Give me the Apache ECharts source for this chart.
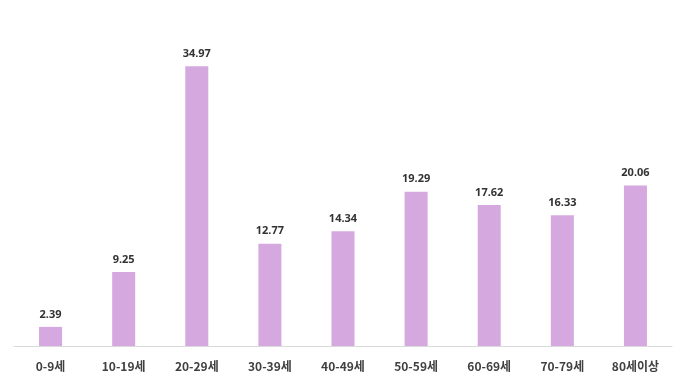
<!DOCTYPE html>
<html>
<head>
<meta charset="utf-8">
<script src="https://cdn.jsdelivr.net/npm/echarts@6/dist/echarts.min.js"></script>
<style>
  html, body { margin: 0; padding: 0; background: #ffffff; }
  #chart { width: 680px; height: 377px; }
</style>
</head>
<body>
<div id="chart"></div>
<script>
// Age groups and their values
const categories = ['0-9세', '10-19세', '20-29세', '30-39세', '40-49세', '50-59세', '60-69세', '70-79세', '80세이상'];
const values = [2.39, 9.25, 34.97, 12.77, 14.34, 19.29, 17.62, 16.33, 20.06];

const chart = echarts.init(document.getElementById('chart'), null, { renderer: 'canvas' });
chart.setOption({
  animation: false,
  grid: { left: 14, right: 8, top: 26, bottom: 31, containLabel: false },
  xAxis: {
    type: 'category',
    data: categories,
    axisLine: { lineStyle: { color: '#d9d9d9', width: 1 } },
    axisTick: { show: false },
    axisLabel: {
      color: '#404040',
      fontSize: 12,
      fontWeight: 'bold',
      fontFamily: '"Noto Sans CJK KR", "Noto Sans", sans-serif',
      margin: 14
    }
  },
  yAxis: {
    type: 'value',
    min: 0,
    max: 40,
    show: false,
    splitLine: { show: false }
  },
  series: [{
    type: 'bar',
    data: values,
    barWidth: 23,
    itemStyle: { color: '#d5a8df' },
    label: {
      show: true,
      position: 'top',
      distance: 7,
      color: '#333333',
      fontSize: 11,
      fontWeight: 'bold',
      fontFamily: '"Noto Sans", sans-serif',
      formatter: p => p.value.toFixed(2)
    }
  }]
});
</script>
</body>
</html>
